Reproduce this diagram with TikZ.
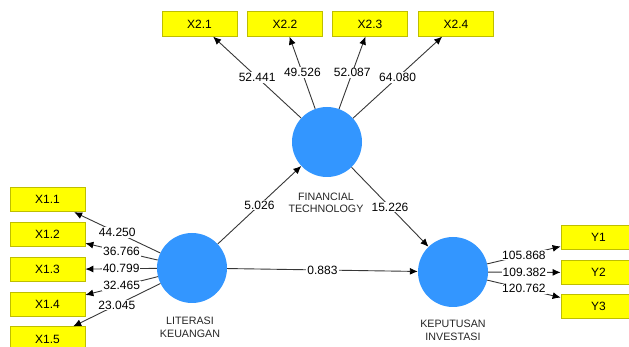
\documentclass[tikz,border=0pt]{standalone}
\usepackage{fontspec}
\setmainfont{Liberation Sans}
\usetikzlibrary{arrows.meta}
\definecolor{lvblue}{RGB}{51,150,255}
\definecolor{indyel}{RGB}{255,255,0}
\definecolor{indbord}{RGB}{190,190,0}
\definecolor{linegray}{RGB}{55,55,55}
\begin{document}
\begin{tikzpicture}[x=1pt,y=-1pt,
  latent/.style={circle,fill=lvblue,minimum size=70pt,inner sep=0pt},
  indicator/.style={rectangle,fill=indyel,draw=indbord,line width=0.8pt,minimum width=75pt,minimum height=24.5pt,inner sep=0pt,font=\fontsize{12}{14}\selectfont},
  conn/.style={draw=linegray,line width=0.9pt,-{Latex[length=8pt,width=7pt,color=black]}},
  val/.style={fill=white,inner sep=1pt,pos=0.5,font=\fontsize{12}{14}\selectfont},
  lvname/.style={align=center,font=\fontsize{10.7}{12.5}\selectfont,text=black!85}]
\useasboundingbox (0,0) rectangle (629,347);
\clip (0,0) rectangle (629,347);
% latent variables
\node[latent] (ft) at (327,142) {};
\node[latent] (lk) at (192,268) {};
\node[latent] (ki) at (453,272) {};
\node[lvname] (ftn) at (326,203) {FINANCIAL\\TECHNOLOGY};
\node[lvname] (lkn) at (190,327.5) {LITERASI\\KEUANGAN};
\node[lvname] (kin) at (453,330.5) {KEPUTUSAN\\INVESTASI};
% indicators
\node[indicator] (x21) at (199.5,24) {X2.1};
\node[indicator] (x22) at (285,24) {X2.2};
\node[indicator] (x23) at (370,24) {X2.3};
\node[indicator] (x24) at (456,24) {X2.4};
\node[indicator] (x11) at (47.5,199.5) {X1.1};
\node[indicator] (x12) at (47.5,234.5) {X1.2};
\node[indicator] (x13) at (47.5,269.5) {X1.3};
\node[indicator] (x14) at (47.5,304.5) {X1.4};
\node[indicator] (x15) at (47.5,339) {X1.5};
\node[indicator] (y1) at (598.5,237.5) {Y1};
\node[indicator] (y2) at (598.5,272.5) {Y2};
\node[indicator] (y3) at (598.5,306.5) {Y3};
% connectors
\draw[conn] (ft) -- (x21);
\draw[conn] (ft) -- (x22);
\draw[conn] (ft) -- (x23);
\draw[conn] (ft) -- (x24);
\draw[conn] (lk) -- (x11);
\draw[conn] (lk) -- (x12);
\draw[conn] (lk) -- (x13);
\draw[conn] (lk) -- (x14);
\draw[conn] (lk) -- (x15);
\draw[conn] (ki) -- (y1);
\draw[conn] (ki) -- (y2);
\draw[conn] (ki) -- (y3);
\draw[conn] (lk) -- (ft);
\draw[conn] (ft) -- (ki);
\draw[conn] (lk) -- (ki);
% values
\path (ft) -- (x21) node[val] {52.441};
\path (ft) -- (x22) node[val] {49.526};
\path (ft) -- (x23) node[val] {52.087};
\path (ft) -- (x24) node[val] {64.080};
\path (lk) -- (x11) node[val] {44.250};
\path (lk) -- (x12) node[val] {36.766};
\path (lk) -- (x13) node[val] {40.799};
\path (lk) -- (x14) node[val] {32.465};
\path (lk) -- (x15) node[val] {23.045};
\path (ki) -- (y1) node[val] {105.868};
\path (ki) -- (y2) node[val] {109.382};
\path (ki) -- (y3) node[val] {120.762};
\path (lk) -- (ft) node[val] {5.026};
\path (ft) -- (ki) node[val] {15.226};
\path (lk) -- (ki) node[val] {0.883};
\end{tikzpicture}
\end{document}
